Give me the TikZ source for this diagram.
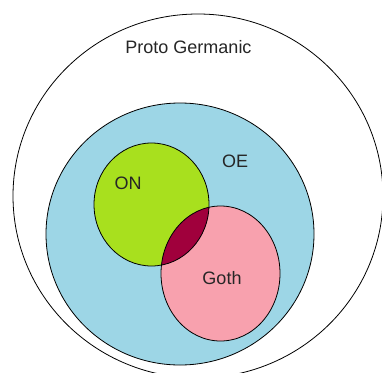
\documentclass[tikz,border=0pt]{standalone}
\usepackage{fontspec}
\setmainfont{Liberation Sans}
\usetikzlibrary{positioning}
\definecolor{oec}{HTML}{9DD6E6}
\definecolor{onc}{HTML}{A8E01E}
\definecolor{gothc}{HTML}{F8A1AE}
\definecolor{bothc}{HTML}{A0003C}
\definecolor{labc}{HTML}{262626}

\begin{document}
\begin{tikzpicture}[x=1pt, y=-1pt, line width=0.8pt,
    set/.style={draw=black},
    lab/.style={font=\fontsize{18}{20}\selectfont, text=labc, inner sep=0pt}]
  \useasboundingbox (0,0) rectangle (382,372);
  \begin{scope}
    \clip (0,0) rectangle (382,372);
    \draw[set, fill=white] (198,196) ellipse [x radius=185, y radius=182];
  \end{scope}
  \draw[set, fill=oec] (180,234) ellipse [x radius=134, y radius=131];
  \fill[onc] (151.5,204.5) ellipse [x radius=57.5, y radius=61.5];
  \fill[gothc] (220.5,273.5) ellipse [x radius=59.5, y radius=67.5];
  \begin{scope}
    \clip (151.5,204.5) ellipse [x radius=57.5, y radius=61.5];
    \fill[bothc] (220.5,273.5) ellipse [x radius=59.5, y radius=67.5];
  \end{scope}
  \draw[set] (151.5,204.5) ellipse [x radius=57.5, y radius=61.5];
  \draw[set] (220.5,273.5) ellipse [x radius=59.5, y radius=67.5];
  % labels
  \node[lab] (pg) at (188.5,47) {Proto Germanic};
  \node[lab] (oe) at (235,161) {OE};
  \node[lab] (on) at (128,183) {ON};
  \node[lab] (goth) at (222,278) {Goth};
\end{tikzpicture}
\end{document}
